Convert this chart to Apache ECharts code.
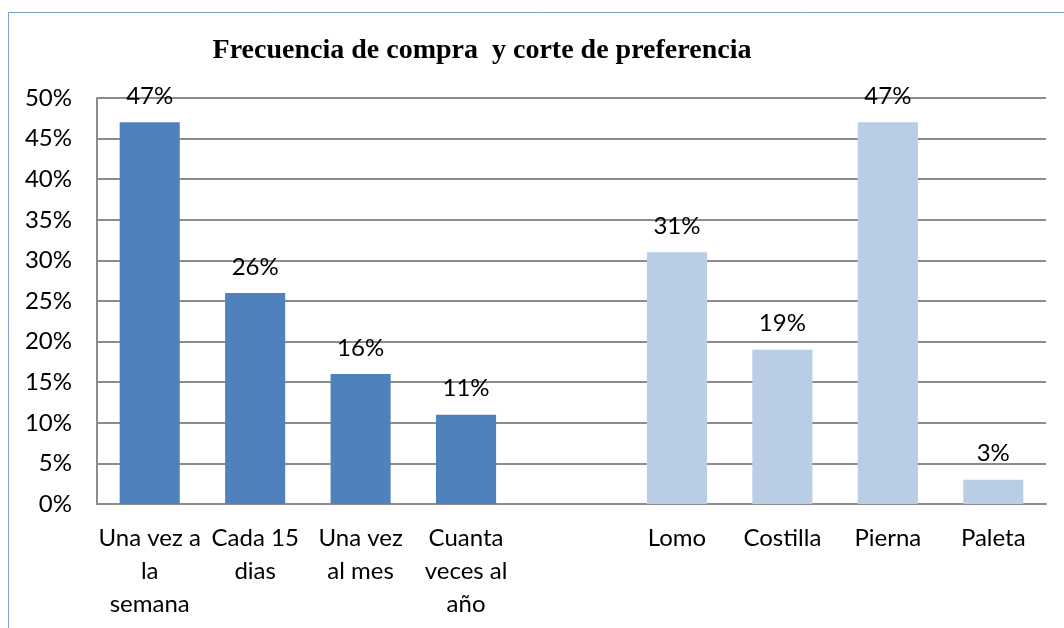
<!DOCTYPE html>
<html>
<head>
<meta charset="utf-8">
<script src="https://cdn.jsdelivr.net/npm/echarts@6/dist/echarts.min.js"></script>
<style>
  html, body { margin: 0; padding: 0; background: #fff; }
  #chart { width: 1064px; height: 628px; }
</style>
</head>
<body>
<div id="chart"></div>
<script>
const categories = [
  "Una vez a\nla\nsemana", "Cada 15\ndias", "Una vez\nal mes", "Cuanta\nveces al\naño",
  "", "Lomo", "Costilla", "Pierna", "Paleta"
];
const frecuencia = [47, 26, 16, 11, "-", "-", "-", "-", "-"];
const corte = ["-", "-", "-", "-", "-", 31, 19, 47, 3];
const yTicks = [0, 50, 5];

const font = "Lato, 'Open Sans', sans-serif";
let chartDom = document.getElementById("chart");
let myChart = echarts.init(chartDom);

const labelStyle = {
  show: true,
  position: "top",
  distance: 14,
  formatter: "{c}%",
  color: "#000",
  fontFamily: font,
  fontSize: 24,
};

const option = {
  animation: false,
  title: {
    text: "Frecuencia de compra  y corte de preferencia",
    left: 477,
    top: 32,
    textAlign: "center",
    textStyle: {
      fontFamily: "'Liberation Serif', 'Times New Roman', serif",
      fontWeight: "bold",
      fontSize: 28,
      color: "#000",
    },
  },
  graphic: [
    {
      type: "rect",
      shape: { x: 8.5, y: 12.5, width: 1200, height: 800 },
      style: { fill: "none", stroke: "#7aa3d4", lineWidth: 1 },
      silent: true,
    },
  ],
  grid: { left: 97, right: 18, top: 98, bottom: 124 },
  xAxis: {
    type: "category",
    data: categories,
    axisLine: { lineStyle: { color: "#8c8c8c", width: 2 } },
    axisTick: { show: false },
    axisLabel: {
      interval: 0,
      color: "#000",
      fontFamily: font,
      fontSize: 24,
      lineHeight: 33,
      margin: 18,
    },
  },
  yAxis: {
    type: "value",
    min: yTicks[0],
    max: yTicks[1],
    interval: yTicks[2],
    axisLine: { show: true, lineStyle: { color: "#8c8c8c", width: 2 } },
    axisTick: { show: false },
    splitLine: { lineStyle: { color: "#8c8c8c", width: 2 } },
    axisLabel: {
      formatter: "{value}%",
      color: "#000",
      fontFamily: font,
      fontSize: 24,
      margin: 25,
    },
  },
  series: [
    {
      type: "bar",
      stack: "all",
      data: frecuencia,
      barWidth: "57%",
      itemStyle: { color: "#4f81bd" },
      label: labelStyle,
    },
    {
      type: "bar",
      stack: "all",
      data: corte,
      barWidth: "57%",
      itemStyle: { color: "#b9cde5" },
      label: labelStyle,
    },
  ],
};

option && myChart.setOption(option);
</script>
</body>
</html>
